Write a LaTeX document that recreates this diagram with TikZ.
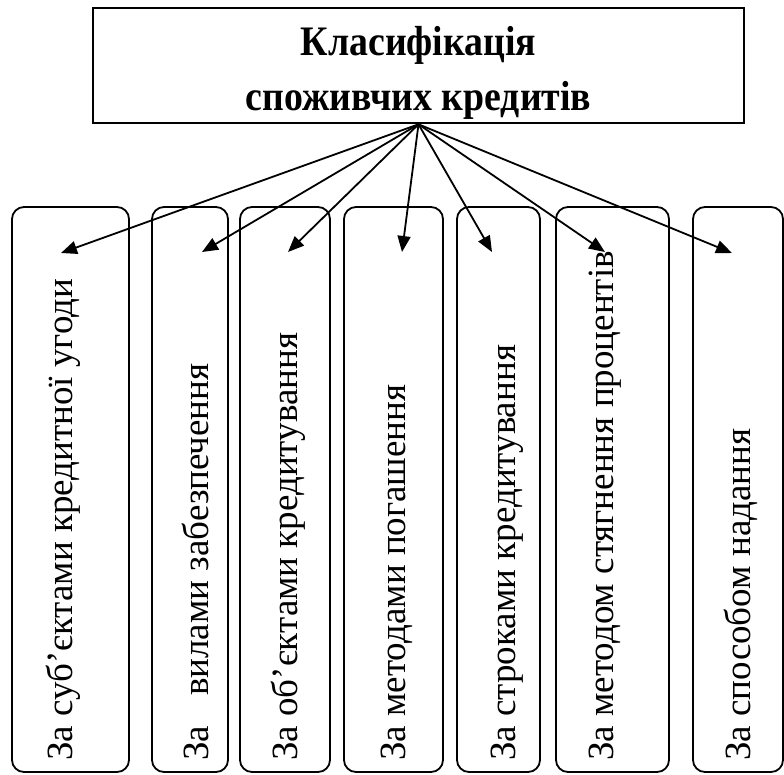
\documentclass[tikz,border=0pt]{standalone}
\usepackage{fontspec}
\setmainfont{Liberation Serif}
\newfontfamily\titlefont[FakeStretch=0.9]{Liberation Serif Bold}
\usetikzlibrary{arrows.meta}
\begin{document}
\begin{tikzpicture}[x=1pt, y=-1pt,
    every node/.style={inner sep=0pt},
    crit/.style={draw, line width=1.8pt, rounded corners=12pt, minimum height=565pt},
    lbl/.style={rotate=90, anchor=base west, font=\fontsize{37}{44}\selectfont},
    arr/.style={line width=1.8pt, -{Triangle[length=16pt,width=13pt]}}]
  \useasboundingbox (0,0) rectangle (784,774);
  \node [draw, line width=2.6pt, minimum width=651pt, minimum height=115pt, align=center,
         font=\titlefont\fontsize{42}{55}\selectfont] (top) at (418.5,65.5) {\rule{0pt}{43pt}Класифікація\\споживчих кредитів};
  % criteria boxes
  \node [crit, minimum width=117pt] (b1) at (70.5,489.5) {};
  \node [crit, minimum width=76pt] (b2) at (190,489.5) {};
  \node [crit, minimum width=90pt] (b3) at (285,489.5) {};
  \node [crit, minimum width=99pt] (b4) at (393.5,489.5) {};
  \node [crit, minimum width=83pt] (b5) at (498.5,489.5) {};
  \node [crit, minimum width=113pt] (b6) at (612.5,489.5) {};
  \node [crit, minimum width=90pt] (b7) at (738,489.5) {};
  % texts
  \node [lbl] (t1) at (72,761) {За суб’єктами кредитної угоди};
  \node [lbl] (t2) at (208,761) {За\hspace{30pt}вилами забезпечення};
  \node [lbl] (t3) at (297,761) {За об’єктами кредитування};
  \node [lbl] (t4) at (405,761) {За методами погашення};
  \node [lbl] (t5) at (515,761) {За строками кредитування};
  \node [lbl] (t6) at (613,761) {За методом стягнення процентів};
  \node [lbl] (t7) at (750,761) {За способом надання};
  % arrow ends
  \coordinate (e1) at (61,253);
  \coordinate (e2) at (202,252);
  \coordinate (e3) at (288,252);
  \coordinate (e4) at (402,252);
  \coordinate (e5) at (492,252);
  \coordinate (e6) at (605,252);
  \coordinate (e7) at (732,253);
  \draw [arr] (top.south) -- (e1);
  \draw [arr] (top.south) -- (e2);
  \draw [arr] (top.south) -- (e3);
  \draw [arr] (top.south) -- (e4);
  \draw [arr] (top.south) -- (e5);
  \draw [arr] (top.south) -- (e6);
  \draw [arr] (top.south) -- (e7);
\end{tikzpicture}
\end{document}
